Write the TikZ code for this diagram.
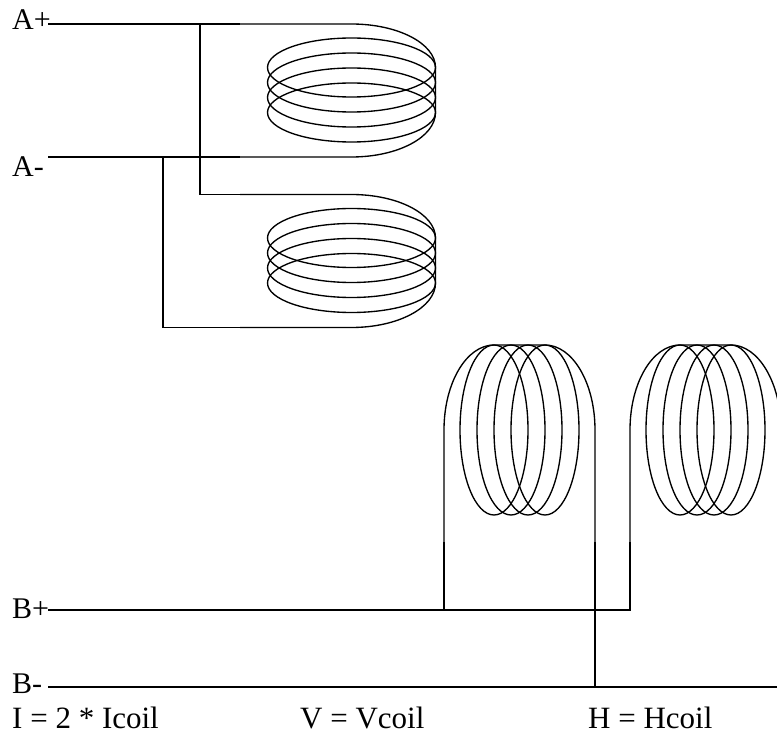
\documentclass[tikz,border=0pt]{standalone}
\usepackage{fontspec}
\setmainfont{Liberation Serif}
\newcommand\mycoilH{%
  \draw[coilline] (240,24) -- (351.5,24)
     arc[start angle=-90,end angle=0,x radius=84,y radius=43.5]
     -- (435.5,112.5)
     arc[start angle=0,end angle=90,x radius=84,y radius=44.5]
     -- (240,157);
  \foreach \c in {67.5,82.5,97.5,112.5}
    \draw[coilline] (351.5,\c) ellipse[x radius=84,y radius=29.5];
}
\newcommand\mycoilV{%
  \draw[coilline] (444,542) -- (444,430)
     arc[start angle=180,end angle=270,x radius=50,y radius=85]
     -- (545,345)
     arc[start angle=270,end angle=360,x radius=50,y radius=85]
     -- (595,542);
  \foreach \c in {494,511,528,545}
    \draw[coilline] (\c,430) ellipse[x radius=34,y radius=85];
}
\begin{document}
\begin{tikzpicture}[x=1pt,y=-1pt,
  wire/.style={line width=1.9pt},
  coilline/.style={line width=1.35pt},
  lbl/.style={anchor=base west,inner sep=0pt,font=\fontsize{30}{32}\selectfont},
  eqlbl/.style={anchor=base west,inner sep=0pt,font=\fontsize{31}{33}\selectfont}]
\useasboundingbox (0,0) rectangle (777,735);
\clip (0,0) rectangle (777,735);
\fill[white] (0,0) rectangle (777,735);

% labels
\node[lbl] (Ap) at (12,30) {A+};
\node[lbl] (Am) at (12,177) {A-};
\node[lbl] (Bp) at (12,618) {B+};
\node[lbl] (Bm) at (12,693) {B-};
\node[eqlbl] (I) at (12,728) {I = 2 * Icoil};
\node[eqlbl] (V) at (300,728) {V = Vcoil};
\node[eqlbl] (H) at (588,728) {H = Hcoil};

% wire end points
\coordinate (apS) at (48,24);
\coordinate (apE) at (240,24);
\coordinate (amS) at (48,157);
\coordinate (amE) at (240,157);
\coordinate (j1) at (200,24);
\coordinate (k1) at (200,194.5);
\coordinate (c2t) at (240,194.5);
\coordinate (j2) at (163,157);
\coordinate (k2) at (163,327.5);
\coordinate (c2b) at (240,327.5);
\coordinate (bpS) at (48,610);
\coordinate (bpE) at (630,610);
\coordinate (v2l) at (630,542);
\coordinate (v1l) at (444,542);
\coordinate (v1lb) at (444,610);
\coordinate (v1r) at (595,542);
\coordinate (v1rb) at (595,687);
\coordinate (bmS) at (48,687);
\coordinate (bmE) at (777,687);

% horizontal coils
\mycoilH
\begin{scope}[shift={(0,170.5)}]
  \mycoilH
\end{scope}

% vertical coils
\mycoilV
\begin{scope}[shift={(186,0)}]
  \mycoilV
\end{scope}

% wires
\draw[wire] (apS) -- (apE);
\draw[wire] (amS) -- (amE);
\draw[wire] (j1) -- (k1) -- (c2t);
\draw[wire] (j2) -- (k2) -- (c2b);
\draw[wire] (bpS) -- (bpE) -- (v2l);
\draw[wire] (v1l) -- (v1lb);
\draw[wire] (v1r) -- (v1rb);
\draw[wire] (bmS) -- (bmE);
\end{tikzpicture}
\end{document}
